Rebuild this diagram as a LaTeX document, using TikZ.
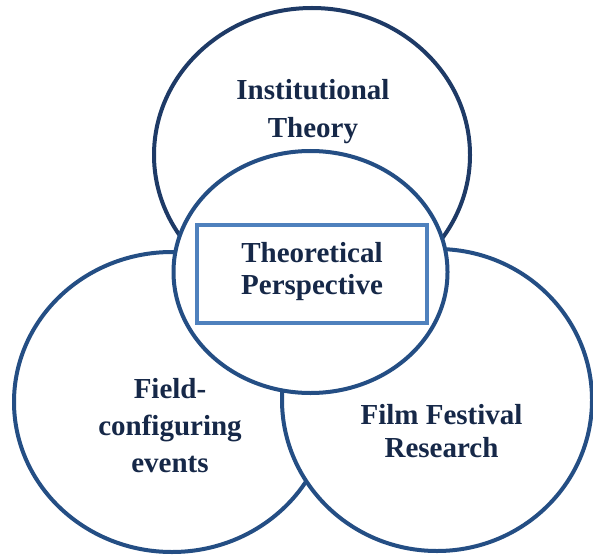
\documentclass[tikz,border=0pt]{standalone}
\usepackage{fontspec}
\setmainfont{Liberation Serif}
\usetikzlibrary{shapes.geometric}
\definecolor{topnavy}{RGB}{30,58,102}
\definecolor{ringblue}{RGB}{36,78,132}
\definecolor{boxblue}{RGB}{79,129,189}
\definecolor{txtnavy}{RGB}{22,40,72}
\tikzset{
  ring/.style={ellipse, draw=ringblue, line width=4pt, fill=white, inner sep=0pt},
  lbl/.style={align=center, text=txtnavy, font=\bfseries\fontsize{29}{#1}\selectfont, inner sep=0pt},
}
\begin{document}
\begin{tikzpicture}[x=1pt,y=-1pt]
\useasboundingbox (0,0) rectangle (593,556);
\node[ring, draw=topnavy, minimum width=316pt, minimum height=294pt] (top) at (312,155) {};
\node[ring, minimum width=316pt, minimum height=300pt] (left) at (172,402) {};
\node[ring, minimum width=310pt, minimum height=302pt] (right) at (437,400) {};
\node[ring, minimum width=274pt, minimum height=242pt] (mid) at (310.5,272) {};
\node[draw=boxblue, line width=3.5pt, minimum width=230pt, minimum height=98pt, inner sep=0pt] (box) at (312,274) {};
\node[lbl=38] (t1) at (313,112) {Institutional\\Theory};
\node[lbl=32] (t2) at (312,272) {Theoretical\\Perspective};
\node[lbl=37] (t3) at (170,426) {Field-\\configuring\\events};
\node[lbl=33] (t4) at (441.5,431.5) {Film Festival\\Research};
\end{tikzpicture}
\end{document}
